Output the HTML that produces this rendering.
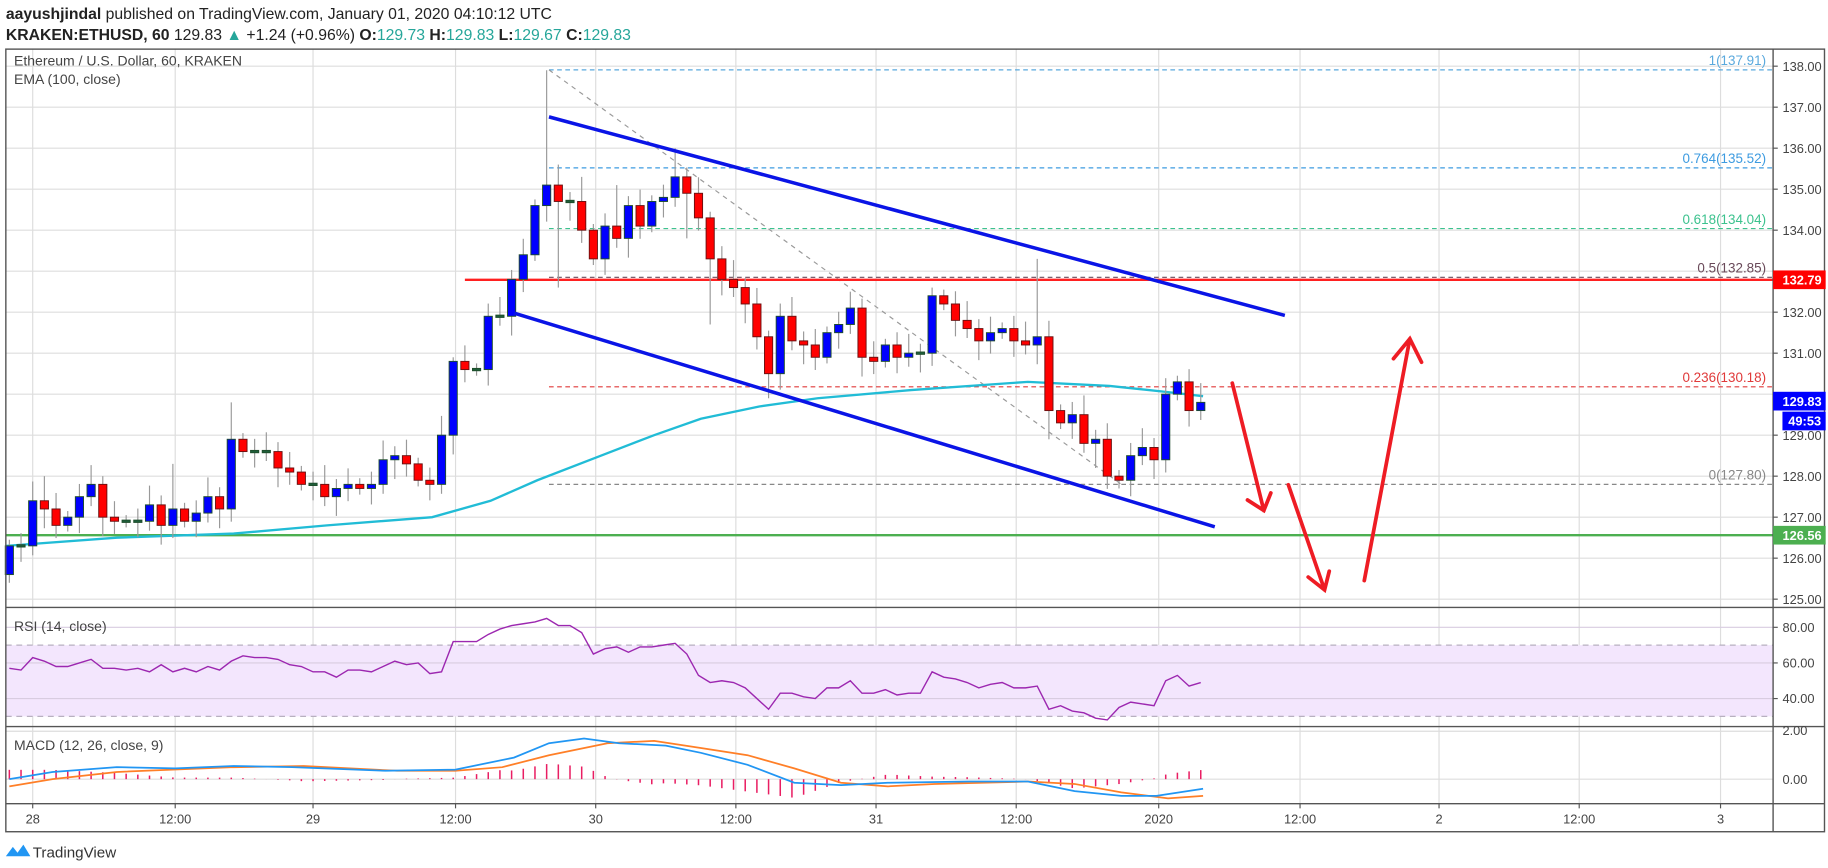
<!DOCTYPE html>
<html><head><meta charset="utf-8"><style>
html,body{margin:0;padding:0;background:#fff;width:1828px;height:868px;overflow:hidden}
svg{display:block}
text{font-family:"Liberation Sans",sans-serif}
</style></head><body>
<svg id="s" width="1828" height="868" viewBox="0 0 1565 743" xmlns="http://www.w3.org/2000/svg"></svg>
<script>
const S=document.getElementById('s');let h='';
const Y=p=>197+(134-p)*35.1;
const RY=v=>537+(80-v)*1.525;
const MY=v=>667-v*20.5;
const L=5,R=1518,RE=1562;
// header
h+=`<text x="5" y="16" font-size="13.5" fill="#222"><tspan font-weight="bold">aayushjindal</tspan> published on TradingView.com, January 01, 2020 04:10:12 UTC</text>`;
h+=`<text x="5" y="34" font-size="13.5" fill="#222"><tspan font-weight="bold">KRAKEN:ETHUSD, 60</tspan> 129.83 <tspan fill="#26a69a">▲</tspan> +1.24 (+0.96%) <tspan font-weight="bold">O:</tspan><tspan fill="#26a69a">129.73</tspan> <tspan font-weight="bold">H:</tspan><tspan fill="#26a69a">129.83</tspan> <tspan font-weight="bold">L:</tspan><tspan fill="#26a69a">129.67</tspan> <tspan font-weight="bold">C:</tspan><tspan fill="#26a69a">129.83</tspan></text>`;
// grid vertical
const vx=[28,150,268,390,510,630,750,870,992,1113,1232,1352,1473];
const vl=['28','12:00','29','12:00','30','12:00','31','12:00','2020','12:00','2','12:00','3'];
vx.forEach(x=>{h+=`<line x1="${x}" y1="42" x2="${x}" y2="688" stroke="#ddd"/>`});
// horizontal grid price
for(let p=125;p<=138;p++){h+=`<line x1="${L}" y1="${Y(p)}" x2="${R}" y2="${Y(p)}" stroke="#ddd"/>`}
// RSI band
h+=`<rect x="${L}" y="${RY(70)}" width="${R-L}" height="${RY(30)-RY(70)}" fill="#f3e6fd"/>`;
[80,60,40].forEach(v=>h+=`<line x1="${L}" y1="${RY(v)}" x2="${R}" y2="${RY(v)}" stroke="#d8cce0"/>`);
[70,30].forEach(v=>h+=`<line x1="${L}" y1="${RY(v)}" x2="${R}" y2="${RY(v)}" stroke="#b8b0c0" stroke-dasharray="5,4"/>`);
[2,0].forEach(v=>h+=`<line x1="${L}" y1="${MY(v)}" x2="${R}" y2="${MY(v)}" stroke="#ddd"/>`);
// fib lines
const fib=[[137.91,'1(137.91)','#5aa9dd'],[135.52,'0.764(135.52)','#3d9be0'],[134.04,'0.618(134.04)','#3cc28e'],[132.85,'0.5(132.85)','#6a4a5a'],[130.18,'0.236(130.18)','#e03a3a'],[127.80,'0(127.80)','#888']];
fib.forEach(f=>{h+=`<line x1="470" y1="${Y(f[0])}" x2="${R}" y2="${Y(f[0])}" stroke="${f[2]}" stroke-dasharray="4,3"/>`;
h+=`<text x="1512" y="${Y(f[0])-4}" font-size="11.5" fill="${f[2]}" text-anchor="end">${f[1]}</text>`});
h+=`<line x1="470" y1="${Y(137.91)}" x2="960" y2="${Y(127.8)}" stroke="#999" stroke-dasharray="4,4"/>`;
// green line, red line
h+=`<line x1="${L}" y1="${Y(126.56)}" x2="${R}" y2="${Y(126.56)}" stroke="#4caf50" stroke-width="2"/>`;
h+=`<line x1="398" y1="${Y(132.79)}" x2="${R}" y2="${Y(132.79)}" stroke="#ff2020" stroke-width="2"/>`;
// EMA
const ema=[[5,126.3],[100,126.5],[200,126.6],[280,126.8],[370,127.0],[420,127.4],[460,127.9],[510,128.45],[560,129.0],[600,129.4],[650,129.7],[700,129.9],[780,130.1],[880,130.3],[950,130.2],[1000,130.05],[1030,129.95]];
h+=`<polyline fill="none" stroke="#21bcd6" stroke-width="2" points="${ema.map(p=>p[0]+','+Y(p[1])).join(' ')}"/>`;
// candles
const cl=[126.3,126.3,127.4,127.2,126.8,127.0,127.5,127.8,127.0,126.9,126.9,126.9,127.3,126.8,127.2,126.9,127.1,127.5,127.2,128.9,128.6,128.6,128.6,128.2,128.1,127.8,127.8,127.5,127.7,127.8,127.7,127.8,128.4,128.5,128.3,127.9,127.8,129.0,130.8,130.6,130.6,131.9,131.9,132.8,133.4,134.6,135.1,134.7,134.7,134.0,133.3,134.1,133.8,134.6,134.1,134.7,134.8,135.3,134.9,134.3,133.3,132.8,132.6,132.2,131.4,130.5,131.9,131.3,131.2,130.9,131.5,131.7,132.1,130.9,130.8,131.2,130.9,131.0,131.0,132.4,132.2,131.8,131.6,131.3,131.5,131.6,131.3,131.2,131.4,129.6,129.3,129.5,128.8,128.9,128.0,127.9,128.5,128.7,128.4,130.0,130.3,129.6,129.8];
const hiO={46:137.9,47:135.6,49:135.3,57:136.0,52:135.1,72:132.5,79:132.6,88:133.3,19:129.8,38:130.9,14:128.3,8:128.0,3:128.0};
const loO={0:125.4,47:132.6,58:133.8,60:131.7,65:129.9,89:128.9,93:128.2,95:127.7};
for(let i=0;i<cl.length;i++){const x=8+i*10;const o=i==0?125.6:cl[i-1];const c=cl[i];
let hi=Math.max(o,c)+0.15+((i*37)%5)*0.08,lo=Math.min(o,c)-0.15-((i*53)%5)*0.08;
if(hiO[i])hi=hiO[i];if(loO[i])lo=loO[i];
h+=`<line x1="${x}" y1="${Y(hi)}" x2="${x}" y2="${Y(lo)}" stroke="#999"/>`;
const up=c>=o;let t=Y(Math.max(o,c)),b=Y(Math.min(o,c));if(b-t<2){t-=1;b+=1}
h+=`<rect x="${x-3.5}" y="${t}" width="7" height="${b-t}" fill="${Math.abs(c-o)<0.08?(up?'#1e5e3a':'#6a1010'):(up?'#0000ff':'#ff0000')}" stroke="${up?'#1e4d2b':'#6a1010'}" stroke-width="0.8"/>`;}
// channel
h+=`<line x1="470" y1="100" x2="1100" y2="270" stroke="#0a14e6" stroke-width="3"/>`;
h+=`<line x1="440" y1="268" x2="1040" y2="451" stroke="#0a14e6" stroke-width="3"/>`;
// arrows
const ar='#ee1c24';
h+=`<g stroke="${ar}" stroke-width="3.2" fill="none" stroke-linecap="round"><path d="M1055 328 L1082 437 M1068 428 L1082 437 L1088 422"/><path d="M1103 415 L1134 505 M1120 494 L1134 505 L1138 489"/><path d="M1168 497 L1207 290 M1193 307 L1207 290 L1217 310"/></g>`;
// RSI
const rsi=[57,56,63,61,58,58,60,62,57,57,56,57,55,59,55,57,55,58,56,61,64,63,63,62,59,58,55,55,52,56,56,55,58,61,59,60,54,55,72,72,72,76,79,81,82,83,85,81,81,77,65,68,69,66,69,69,70,71,65,53,49,50,49,46,40,34,43,43,41,40,46,46,50,43,43,45,42,43,43,55,52,51,49,46,48,49,46,46,47,34,36,33,32,29,28,35,38,37,36,50,53,47,49];
h+=`<polyline fill="none" stroke="#9c27b0" stroke-width="1.2" points="${rsi.map((v,i)=>(8+i*10)+','+RY(v)).join(' ')}"/>`;
// MACD
const mac=[[8,0],[45,0.3],[100,0.5],[150,0.45],[200,0.55],[250,0.5],[330,0.35],[390,0.4],[440,0.9],[470,1.5],[500,1.7],[530,1.5],[570,1.4],[600,1.1],[640,0.6],[680,-0.15],[720,-0.25],[760,-0.15],[830,-0.1],[880,-0.1],[920,-0.5],[960,-0.7],[990,-0.7],[1030,-0.4]];
const sig=[[8,-0.3],[45,0],[100,0.3],[200,0.5],[260,0.55],[340,0.35],[390,0.35],[430,0.5],[470,1.0],[520,1.5],[560,1.6],[600,1.3],[640,1.0],[680,0.45],[720,-0.15],[760,-0.3],[800,-0.2],[880,-0.1],[920,-0.2],[960,-0.55],[1000,-0.8],[1030,-0.7]];
const it=(a,x)=>{for(let i=1;i<a.length;i++)if(x<=a[i][0]){const t=(x-a[i-1][0])/(a[i][0]-a[i-1][0]);return a[i-1][1]+t*(a[i][1]-a[i-1][1])}return a[a.length-1][1]};
for(let i=0;i<cl.length;i++){const x=8+i*10;const d=(it(mac,x)-it(sig,x))*1.3;h+=`<line x1="${x}" y1="${MY(0)}" x2="${x}" y2="${MY(d)}" stroke="#e91e63" stroke-width="1.3"/>`}
h+=`<polyline fill="none" stroke="#ff7f27" stroke-width="1.5" points="${sig.map(p=>p[0]+','+MY(p[1])).join(' ')}"/>`;
h+=`<polyline fill="none" stroke="#2196f3" stroke-width="1.5" points="${mac.map(p=>p[0]+','+MY(p[1])).join(' ')}"/>`;
// frames
h+=`<rect x="${L}" y="42" width="${RE-L}" height="670" fill="none" stroke="#555" stroke-width="1.2"/>`;
h+=`<line x1="${R}" y1="42" x2="${R}" y2="712" stroke="#555" stroke-width="1.2"/>`;
[520,622,688].forEach(y=>h+=`<line x1="${L}" y1="${y}" x2="${RE}" y2="${y}" stroke="#555" stroke-width="1.2"/>`);
// panel titles
h+=`<text x="12" y="56" font-size="12" fill="#444">Ethereum / U.S. Dollar, 60, KRAKEN</text><text x="12" y="72" font-size="12" fill="#444">EMA (100, close)</text>`;
h+=`<text x="12" y="540" font-size="12" fill="#444">RSI (14, close)</text><text x="12" y="642" font-size="12" fill="#444">MACD (12, 26, close, 9)</text>`;
// price axis labels
for(let p=125;p<=138;p++){if(p==133||p==130)continue;h+=`<line x1="${R}" y1="${Y(p)}" x2="${R+4}" y2="${Y(p)}" stroke="#555"/><text x="${R+8}" y="${Y(p)+4}" font-size="11" fill="#444">${p}.00</text>`}
const tag=(p,t,c)=>{h+=`<rect x="${R}" y="${Y(p)-8}" width="${RE-R+1}" height="16" fill="${c}"/><text x="${R+8}" y="${Y(p)+4}" font-size="11" font-weight="bold" fill="#fff">${t}</text>`};
tag(132.79,'132.79','#ff0000');tag(126.56,'126.56','#4caf50');tag(129.83,'129.83','#0000ff');
h+=`<rect x="${R+8}" y="${Y(129.83)+9}" width="${RE-R-7}" height="16" fill="#0000ff"/><text x="${R+13}" y="${Y(129.83)+21}" font-size="11" font-weight="bold" fill="#fff">49:53</text>`;
[[80],[60],[40]].forEach(v=>h+=`<line x1="${R}" y1="${RY(v)}" x2="${R+4}" y2="${RY(v)}" stroke="#555"/><text x="${R+8}" y="${RY(v)+4}" font-size="11" fill="#444">${v}.00</text>`);
h+=`<text x="${R+8}" y="629" font-size="11" fill="#444">2.00</text><text x="${R+8}" y="${MY(0)+4}" font-size="11" fill="#444">0.00</text>`;
vx.forEach((x,i)=>{h+=`<line x1="${x}" y1="688" x2="${x}" y2="692" stroke="#555"/><text x="${x}" y="705" font-size="11" fill="#444" text-anchor="middle">${vl[i]}</text>`});
// logo
h+=`<path d="M5 733 L11 725 L15 730 L20 723 L26 733 Z" fill="#2196f3"/><text x="28" y="734" font-size="13" fill="#333">TradingView</text>`;
S.innerHTML=h;
</script>
</body></html>
